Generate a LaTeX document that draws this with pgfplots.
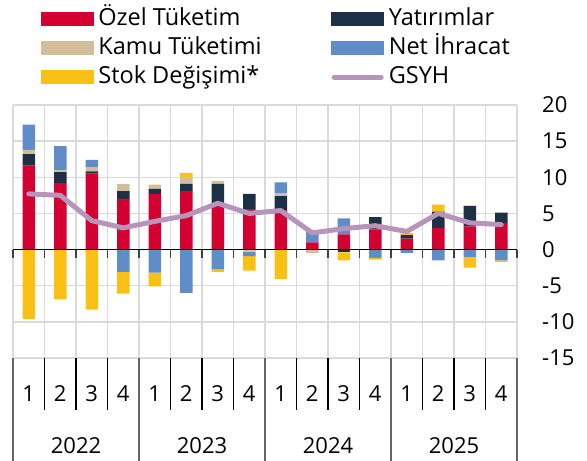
\documentclass[border=0pt]{standalone}
\usepackage{fontspec}
\setmainfont{Open Sans}
\usepackage{pgfplots}
\usepackage{pgfplotstable}
\pgfplotsset{compat=1.18}
\definecolor{cred}{RGB}{213,0,50}
\definecolor{cnavy}{RGB}{28,48,70}
\definecolor{cbeige}{RGB}{212,190,154}
\definecolor{cblue}{RGB}{96,140,200}
\definecolor{cyel}{RGB}{250,193,20}
\definecolor{cgdp}{RGB}{183,148,185}
\definecolor{cgrid}{RGB}{218,218,218}
\pgfplotstableread{
q red inv gov nx stk gdp
0 11.6 1.6 0.6 3.5 -9.6 7.7
1 9.2 1.5 0.3 3.3 -6.9 7.5
2 10.5 0.3 0.6 1.0 -8.3 4.0
3 7.0 1.1 1.0 -3.1 -3.0 3.0
4 7.7 0.7 0.6 -3.2 -1.9 3.9
5 8.1 1.0 0.9 -6.0 0.6 4.7
6 6.0 3.1 0.4 -2.7 -0.4 6.4
7 5.6 2.1 -0.3 -0.6 -2.0 5.0
8 5.5 1.9 0.4 1.5 -4.1 5.4
9 1.0 0.0 -0.5 1.7 0.0 2.3
10 2.1 -0.4 0.0 2.2 -1.1 2.9
11 2.8 1.7 0.0 -1.15 -0.25 3.3
12 1.5 0.5 0.0 -0.45 0.3 2.5
13 3.0 2.2 0.0 -1.5 1.0 5.0
14 3.2 2.8 0.1 -1.0 -1.5 3.7
15 3.7 1.4 0.0 -1.5 -0.2 3.45
}\data
\pgfplotsset{
  base/.style={at={(13bp,103bp)}, anchor=south west, width=504bp, height=253bp,
    scale only axis, xmin=-0.5, xmax=15.5, ymin=-15, ymax=20},
  bars/.style={ybar stacked, bar width=12.5bp},
}
\begin{document}
\begin{tikzpicture}[x=1bp,y=1bp,font=\fontsize{22bp}{26bp}\selectfont]
\useasboundingbox (0,0) rectangle (587,461);
% Axis A: grid, tick labels, positive parts
\begin{axis}[base, bars,
  axis line style={draw=none},
  /pgf/number format/assume math mode=true,
  ytick={-15,-10,...,20},
  yticklabel pos=right,
  yticklabel style={anchor=west, inner sep=0pt, xshift=25bp},
  xtick={-0.5,0.5,...,15.5}, xticklabels={},
  major tick length=0pt,
  xmajorgrids, ymajorgrids,
  grid style={cgrid, line width=1.5bp},
  extra x ticks={0,...,15},
  extra x tick labels={1,2,3,4,1,2,3,4,1,2,3,4,1,2,3,4},
  extra x tick style={grid=none, major tick length=0pt,
    xticklabel style={anchor=center, yshift=-36bp}},
]
\addplot[fill=cred, draw=none] table[x=q, y expr={max(\thisrow{red},0)}] {\data};
\addplot[fill=cnavy, draw=none] table[x=q, y expr={max(\thisrow{inv},0)}] {\data};
\addplot[fill=cbeige, draw=none] table[x=q, y expr={max(\thisrow{gov},0)}] {\data};
\addplot[fill=cyel, draw=none] table[x=q, y expr={max(\thisrow{stk},0)}] {\data};
\addplot[fill=cblue, draw=none] table[x=q, y expr={max(\thisrow{nx},0)}] {\data};
\end{axis}
% Axis B: negative parts
\begin{axis}[base, bars, hide axis]
\addplot[fill=cnavy, draw=none] table[x=q, y expr={min(\thisrow{inv},0)}] {\data};
\addplot[fill=cbeige, draw=none] table[x=q, y expr={min(\thisrow{gov},0)}] {\data};
\addplot[fill=cblue, draw=none] table[x=q, y expr={min(\thisrow{nx},0)}] {\data};
\addplot[fill=cyel, draw=none] table[x=q, y expr={min(\thisrow{stk},0)}] {\data};
\end{axis}
% Axis C: zero line, separators, GDP line, legend
\begin{axis}[base, hide axis, clip=false,
  legend columns=2,
  legend style={draw=none, fill=none, at={(0.0556,1.383)}, anchor=north west,
    inner sep=0pt, outer sep=0pt,
    font=\fontsize{23.5bp}{27bp}\selectfont,
    nodes={inner sep=0pt, text height=17bp, text depth=5bp, anchor=west},
    row sep=7bp,
    /tikz/every odd column/.style={column sep=5bp}},
  legend cell align=left,
]
\draw[black, line width=1.3bp] (axis cs:-0.5,0) -- (axis cs:15.5,0);
\pgfplotsinvokeforeach{-0.5,0.5,1.5,2.5,3.5,4.5,5.5,6.5,7.5,8.5,9.5,10.5,11.5,12.5,13.5,14.5,15.5}{
  \draw[black!75, line width=1.3bp] (axis cs:#1,0) -- ([yshift=-8bp]axis cs:#1,0);
}
\pgfplotsinvokeforeach{0.5,1.5,2.5,4.5,5.5,6.5,8.5,9.5,10.5,12.5,13.5,14.5}{
  \draw[black, line width=1.2bp] (axis cs:#1,-15) -- ([yshift=-52bp]axis cs:#1,-15);
}
\pgfplotsinvokeforeach{-0.5,3.5,7.5,11.5,15.5}{
  \draw[black!60, line width=1.5bp] (axis cs:#1,-15) -- ([yshift=-103bp]axis cs:#1,-15);
}
\node[anchor=center] at (axis cs:1.5,-15) [yshift=-88bp] {2022};
\node[anchor=center] at (axis cs:5.5,-15) [yshift=-88bp] {2023};
\node[anchor=center] at (axis cs:9.5,-15) [yshift=-88bp] {2024};
\node[anchor=center] at (axis cs:13.5,-15) [yshift=-88bp] {2025};
\addplot[cgdp, line width=5bp, line join=round, line cap=round, mark=none, forget plot]
  table[x=q, y=gdp] {\data};
\addlegendimage{legend image code/.code={\fill[cred] (0bp,-6.5bp) rectangle (52bp,6.5bp);}}
\addlegendentry{\makebox[233bp][l]{Özel Tüketim}}
\addlegendimage{legend image code/.code={\fill[cnavy] (0bp,-6.5bp) rectangle (52bp,6.5bp);}}
\addlegendentry{Yatırımlar}
\addlegendimage{legend image code/.code={\fill[cbeige] (0bp,-6.5bp) rectangle (52bp,6.5bp);}}
\addlegendentry{\makebox[233bp][l]{Kamu Tüketimi}}
\addlegendimage{legend image code/.code={\fill[cblue] (0bp,-6.5bp) rectangle (52bp,6.5bp);}}
\addlegendentry{Net İhracat}
\addlegendimage{legend image code/.code={\fill[cyel] (0bp,-6.5bp) rectangle (52bp,6.5bp);}}
\addlegendentry{\makebox[233bp][l]{Stok Değişimi*}}
\addlegendimage{legend image code/.code={\draw[cgdp, line width=5bp, line cap=round] (2.5bp,0) -- (49.5bp,0);}}
\addlegendentry{GSYH}
\end{axis}
\end{tikzpicture}
\end{document}
